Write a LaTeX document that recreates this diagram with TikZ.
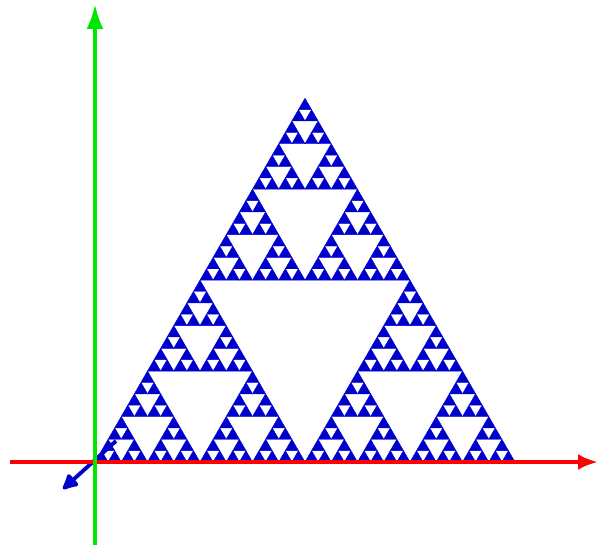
\documentclass[tikz,border=0pt]{standalone}
\usepackage{tikz}
\usetikzlibrary{arrows.meta,calc}

\begin{document}
\begin{tikzpicture}[x=0.02cm, y=0.02cm,
  tri/.style={fill={rgb,255:red,0;green,0;blue,205}, draw={rgb,255:red,0;green,0;blue,205}, line width=0.25pt, line join=round},
  xaxis/.style={draw={rgb,255:red,255;green,0;blue,0}, line width=2.3pt, -{Latex[length=4mm,width=3.2mm]}},
  yaxis/.style={draw={rgb,255:red,0;green,230;blue,0}, line width=2.3pt, -{Latex[length=5mm,width=3.4mm]}},
  zaxis/.style={draw={rgb,255:red,0;green,0;blue,205}, line width=2.2pt, -{Latex[round,length=3.8mm,width=3.8mm]}}]
\useasboundingbox (0,0) rectangle (599,550);
\coordinate (O) at (95,88);
\coordinate (xmin) at (10,88);   \coordinate (xmax) at (598,88);
\coordinate (ymin) at (95,5);    \coordinate (ymax) at (95,546);
\coordinate (zmin) at (116,109); \coordinate (zmax) at (63,61);
% sierpinski triangle, 5 levels, side 420
\foreach \a in {0,1,2}{
 \foreach \b in {0,1,2}{
  \foreach \c in {0,1,2}{
   \foreach \d in {0,1,2}{
    \foreach \e in {0,1,2}{
     \pgfmathsetmacro\px{210*{0,1,0.5}[\a]+105*{0,1,0.5}[\b]+52.5*{0,1,0.5}[\c]+26.25*{0,1,0.5}[\d]+13.125*{0,1,0.5}[\e]}
     \pgfmathsetmacro\py{0.8660254*(210*(\a==2)+105*(\b==2)+52.5*(\c==2)+26.25*(\d==2)+13.125*(\e==2))}
     \filldraw[tri] ($(O)+(\px,\py)$) -- ++(13.125,0) -- ++(120:13.125) -- cycle;
    }}}}}
\draw[zaxis] (zmin) -- (zmax);
\draw[xaxis] (xmin) -- (xmax);
\draw[yaxis] (ymin) -- (ymax);
\end{tikzpicture}
\end{document}
